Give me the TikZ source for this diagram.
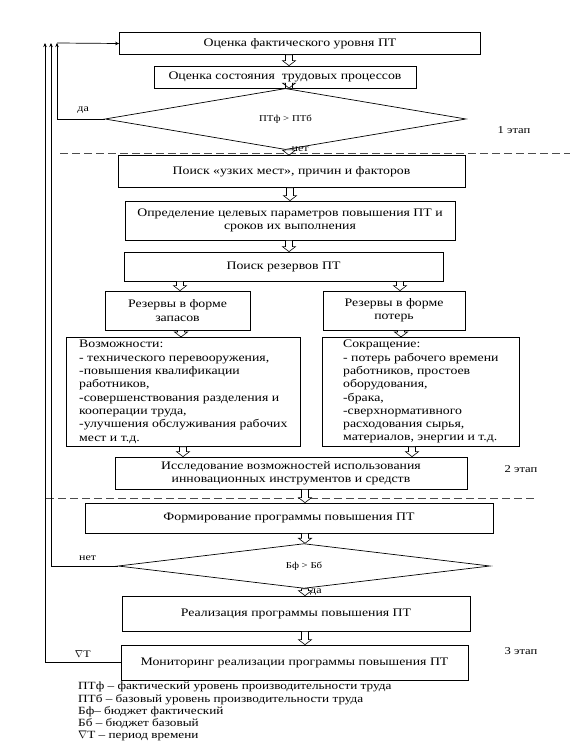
\documentclass[tikz,border=0pt]{standalone}
\usepackage{fontspec}
\setmainfont{Liberation Serif}[FakeStretch=1.2]
\usetikzlibrary{shapes,arrows.meta,positioning,calc}

% hollow block arrow between two stacked nodes: #1 = x, #2 upper node, #3 lower node
\newcommand{\harr}[3]{%
  \path let \p1=(#2.south), \p2=(#3.north) in
    [hollow] (#1pt-3.5pt,\y1) -- (#1pt+3.5pt,\y1) -- (#1pt+3.5pt,\y2+5pt) -- (#1pt+6.5pt,\y2+5pt)
    -- (#1pt,\y2) -- (#1pt-6.5pt,\y2+5pt) -- (#1pt-3.5pt,\y2+5pt) -- cycle;}

\begin{document}
\begin{tikzpicture}[x=1pt, y=-1pt,
    stepbox/.style={rectangle, draw, line width=0.7pt, inner sep=2pt, align=center, font=\fontsize{11.5}{13.3}\selectfont},
    listbox/.style={rectangle, draw, line width=0.7pt, inner xsep=4pt, inner ysep=2pt, align=left, anchor=north west, font=\fontsize{11.5}{13.3}\selectfont},
    check/.style={diamond, draw, line width=0.7pt, inner sep=0pt, font=\fontsize{9}{10}\selectfont},
    hollow/.style={draw, line width=0.6pt, fill=white},
    back/.style={line width=0.7pt, -{Stealth[length=4pt, width=3.5pt]}},
    lbl/.style={font=\fontsize{10}{11}\selectfont, inner sep=1pt},
    stage/.style={font=\fontsize{10.5}{12}\selectfont},
    sep/.style={dash pattern=on 8pt off 4pt, line width=0.8pt, black!70}
]
\useasboundingbox (0,0) rectangle (581,754);

% Stage 1
\node[stepbox, minimum width=361pt, minimum height=22pt] (b1) at (300,43.5) {Оценка фактического уровня ПТ};
\node[stepbox, minimum width=262pt, minimum height=22pt] (b2) at (285,77) {Оценка состояния \ трудовых процессов};
\node[check, minimum width=361pt, minimum height=48pt] (d1) at (285.5,119) {ПТф > ПТб};
\node[stage] (s1) at (514,130) {1 этап};
\harr{289}{b1}{b2}
\harr{289}{b2}{d1}

\draw[sep] (60,153) -- (570,153);

% Stage 2
\node[stepbox, minimum width=347pt, minimum height=32pt] (b3) at (291.5,171.5) {Поиск «узких мест», причин и факторов};
\node[stepbox, minimum width=330pt, minimum height=39pt] (b4) at (290,220.5) {Определение целевых параметров повышения ПТ и\\сроков их выполнения};
\node[stepbox, minimum width=319pt, minimum height=29pt] (b5) at (283.5,266.5) {Поиск резервов ПТ};
\node[stepbox, minimum width=145pt, minimum height=39pt] (b6l) at (177.5,310.5) {Резервы в форме\\запасов};
\node[stepbox, minimum width=142pt, minimum height=39pt] (b6r) at (394,310.5) {Резервы в форме\\потерь};
\node[listbox, minimum width=234pt, minimum height=109pt] (b7l) at (66,337) {Возможности:\\
    - технического перевооружения,\\
    -повышения квалификации\\
    работников,\\
    -совершенствования разделения и\\
    кооперации труда,\\
    -улучшения обслуживания рабочих\\
    мест и т.д.};
\node[listbox, minimum width=197pt, minimum height=109pt] (b7r) at (322,337) {Сокращение:\\
    - потерь рабочего времени\\
    работников, простоев\\
    оборудования,\\
    -брака,\\
    -сверхнормативного\\
    расходования сырья,\\
    материалов, энергии и т.д.};
\node[stepbox, minimum width=352pt, minimum height=32pt] (b8) at (291,473) {Исследование возможностей использования\\инновационных инструментов и средств};
\node[stage] (s2) at (521,469) {2 этап};
\draw (d1.south) node[lbl, anchor=west, xshift=5pt, yshift=0.5pt] {нет};
\harr{289}{d1}{b3}
\harr{290}{b3}{b4}
\harr{289}{b4}{b5}
\harr{180}{b5}{b6l}
\harr{400}{b5}{b6r}
\harr{181}{b6l}{b7l}
\harr{401}{b6r}{b7r}
\harr{183}{b7l}{b8}
\harr{412}{b7r}{b8}

\draw[sep] (46,498) -- (535,498);

% Stage 3
\node[stepbox, minimum width=408pt, minimum height=30pt] (b9) at (289,518) {Формирование программы повышения ПТ};
\node[check, minimum width=372pt, minimum height=42pt] (d2) at (304,566) {Бф > Бб};
\node[stepbox, minimum width=348pt, minimum height=35pt] (b10) at (296,613.5) {Реализация программы повышения ПТ};
\node[stepbox, minimum width=347pt, minimum height=35pt] (b11) at (294.5,662.5) {Мониторинг реализации программы повышения ПТ};
\node[stage] (s3) at (521,651) {3 этап};
\draw (d2.south) node[lbl, anchor=west, xshift=5pt, yshift=-3pt] {да};
\harr{305}{b8}{b9}
\harr{305}{b9}{d2}
\harr{305}{d2}{b10}
\harr{305}{b10}{b11}

% feedback loops
\coordinate (r1) at (57,43);
\coordinate (r2) at (51,43);
\coordinate (r3) at (45,43);
\draw[back] (d1.west) -- node[lbl, above=4pt, pos=0.45] {да} (d1.west -| r1) -- (r1);
\draw[back] (d2.west) -- node[lbl, above=4pt, pos=0.45] {нет} (d2.west -| r2) -- (r2);
\draw[back] (b11.west) -- node[lbl, above=4pt, pos=0.5] {$\nabla$T} (b11.west -| r3) -- (r3);
\draw[back] (r1) -- (b1.west);

% legend
\node[anchor=north west, align=left, inner sep=0pt, font=\fontsize{11}{12.2}\selectfont] (leg) at (78,682) {ПТф – фактический уровень производительности труда\\
    ПТб – базовый уровень производительности труда\\
    Бф– бюджет фактический\\
    Бб – бюджет базовый\\
    $\nabla$T – период времени};

\end{tikzpicture}
\end{document}
